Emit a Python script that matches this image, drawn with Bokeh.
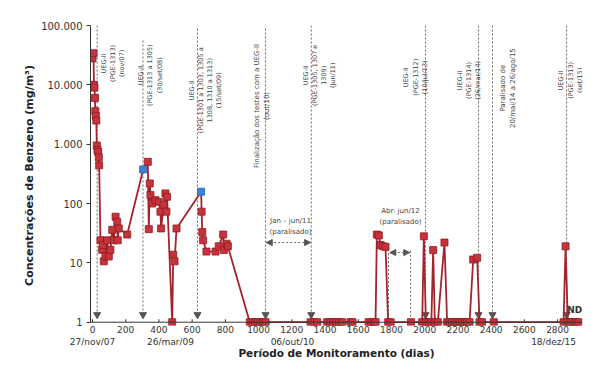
import numpy as np
from bokeh.plotting import figure
from bokeh.models import (Range1d, FixedTicker, Label, Arrow, NormalHead, ColumnDataSource,
                          Span, AllLabels)
from bokeh.core.properties import value
from bokeh.embed import file_html
from bokeh.resources import INLINE

# ---------------- data ----------------
days = [0, 6, 9, 12, 15, 17, 20, 23, 26, 30, 34, 38, 40,
        48, 58, 63, 68, 78, 88, 98, 108, 119, 128, 139, 149, 152, 158, 209,
        305, 333, 339, 345, 349, 359, 379, 399, 409, 413, 429, 439, 445, 449,
        480, 486, 494, 506,
        654, 657, 661, 666, 686, 741, 760, 787, 791, 807, 815,
        947, 963, 979, 995, 1011, 1027, 1042,
        1313, 1333, 1353, 1413, 1431, 1449, 1467, 1485, 1503, 1553, 1565,
        1662, 1678, 1694, 1704, 1712, 1724, 1734, 1748, 1764, 1780, 1795,
        1917, 1985, 1995, 2007, 2025, 2040, 2051, 2061, 2079, 2119,
        2135, 2150, 2165, 2180, 2195, 2210, 2225, 2240, 2255, 2270,
        2292, 2316, 2330, 2345, 2416,
        2836, 2848, 2862, 2878, 2894, 2910, 2925]
benzeno = [28000, 34000, 10000, 9000, 6000, 3600, 3000, 2500, 950, 800, 740, 600, 440,
           24, 16.6, 20, 10.6, 13, 24, 12.8, 16.6, 36, 24, 60, 49, 24, 38, 30,
           375, 505, 37, 218, 139, 100, 114, 107, 73, 38, 95, 148, 73, 130,
           1, 13.7, 10.6, 38,
           158, 73, 33, 24, 15.5, 15.5, 19, 30, 16.5, 21, 19,
           1, 1, 1, 1, 1, 1, 1,
           1, 1, 1, 1, 1, 1, 1, 1, 1, 1, 1,
           1, 1, 1, 1, 30, 29, 20, 19, 18.6, 1, 1,
           1, 1, 28, 1, 1, 1, 16.4, 1, 1, 22,
           1, 1, 1, 1, 1, 1, 1, 1, 1, 1,
           11.4, 12.2, 1, 1, 1,
           1, 19, 1, 1, 1, 1, 1]
blue_days = [305, 654]

x_ticks = list(range(0, 2801, 200))
y_ticks = [1, 10, 100, 1000, 10000, 100000]
y_tick_labels = ["1", "10", "100", "1.000", "10.000", "100.000"]

date_days = [0, 470, 1204, 2776]
date_labels = ["27/nov/07", "26/mar/09", "06/out/10", "18/dez/15"]

event_days = [28, 304, 632, 1042, 1317, 2005, 2324, 2408, 2854]
event_tops = [100000, 56000, 89000, 89000, 100000, 100000, 100000, 100000, 100000]
pause_days = [1782, 1915]

note_days = [123, 349, 680, 1020, 1367, 1945, 2267, 2502, 2878]
note_vals = [23000, 14500, 8100, 4400, 14500, 13400, 11900, 8800, 11900]
note_texts = [
    "UEG-II\n(PGE-1313)\n(nov/07)",
    "UEG-II\n(PGE-1313 a 1305)\n(30/set/08)",
    "UEG-II\n(PGE-1301 a 1303, 1305 a\n1308, 1310 a 1313)\n(15/set/09)",
    "Finalização dos testes com a UEG-II\n(out/10)",
    "UEG-II\n(PGE-1305, 1307 e\n1309)\n(jun/11)",
    "UEG-II\n(PGE-1312)\n(10/jul/13)",
    "UEG-II\n(PGE-1314)\n(26/mar/14)",
    "Paralisado de\n20/mai/14 a 26/ago/15",
    "UEG-II\n(PGE-1313)\n(set/15)",
]
note_sizes = ["6.5px", "6.5px", "6.5px", "7px", "6.5px", "6.5px", "6.5px", "7px", "6.5px"]

FONT = "DejaVu Sans"
AX = "#333333"

p = figure(width=583, height=361, output_backend="svg", toolbar_location=None,
           y_axis_type="log",
           x_range=Range1d(-12, 2950), y_range=Range1d(0.88, 100000),
           min_border_left=90, min_border_right=1, min_border_top=25, min_border_bottom=35)
p.background_fill_color = "white"
p.border_fill_color = "white"
p.outline_line_color = None
p.grid.visible = False

# x axis: two-row labels (day numbers + dates) and title
tick_pos = sorted(set(x_ticks) | set(date_days))
overrides = {}
for t in tick_pos:
    top = str(t) if t in x_ticks else ""
    bottom = date_labels[date_days.index(t)] if t in date_days else ""
    overrides[t] = top + ("\n" + bottom if bottom else "")
xa = p.xaxis[0]
xa.ticker = FixedTicker(ticks=tick_pos)
xa.major_label_overrides = overrides
xa.major_label_policy = AllLabels()
xa.axis_line_color = None
xa.major_tick_line_color = None
xa.minor_tick_line_color = None
xa.major_tick_in = 0
xa.major_tick_out = 0
xa.major_label_standoff = -1
xa.major_label_text_font = FONT
xa.major_label_text_font_size = "9px"
xa.major_label_text_color = AX
xa.axis_label = "Período de Monitoramento (dias)"
xa.axis_label_standoff = -3
xa.axis_label_text_font = FONT
xa.axis_label_text_font_style = "bold"
xa.axis_label_text_font_size = "10.5px"
xa.axis_label_text_color = "#222222"

# axis line at y = 1 with short inner tick marks
p.add_layout(Span(location=1, dimension="width", line_color=AX, line_width=1))
p.segment(x0=x_ticks, y0=[1] * len(x_ticks), x1=x_ticks, y1=[1.12] * len(x_ticks),
          line_color=AX, line_width=1)

ya = p.yaxis[0]
ya.ticker = FixedTicker(ticks=y_ticks)
ya.major_label_overrides = {t: l for t, l in zip(y_ticks, y_tick_labels)}
ya.bounds = (1, 100000)
ya.major_tick_in = 0
ya.major_tick_out = 4
ya.minor_tick_line_color = None
ya.major_label_standoff = 4
ya.major_label_text_font = FONT
ya.major_label_text_font_size = "10px"
ya.major_label_text_color = AX
ya.axis_line_color = AX
ya.major_tick_line_color = AX
ya.axis_label = "Concentrações de Benzeno (mg/m³)"
ya.axis_label_text_font = FONT
ya.axis_label_text_font_style = "bold"
ya.axis_label_text_font_size = "11px"
ya.axis_label_text_color = "#222222"
ya.axis_label_standoff = 2

# event lines
p.segment(x0=event_days, y0=event_tops, x1=event_days, y1=[1.45] * len(event_days),
          line_color="#666666", line_dash="2 2", line_width=1)
p.scatter(x=event_days, y=[1.34] * len(event_days), marker="inverted_triangle", size=7,
          fill_color="#555555", line_color="#555555")
p.segment(x0=pause_days, y0=[17, 16], x1=pause_days, y1=[1, 1],
          line_color="#666666", line_dash="2 2", line_width=1)

# series
p.line(days, benzeno, line_color="#a3242c", line_width=1.8)
colors = ["#3b83d8" if d in blue_days else "#c8323b" for d in days]
lcolors = ["#2a64b0" if d in blue_days else "#8e1c22" for d in days]
src = ColumnDataSource(dict(x=days, y=benzeno, c=colors, lc=lcolors))
p.scatter("x", "y", source=src, marker="square", size=7, fill_color="c", line_color="lc", line_width=0.8)

# rotated notes
nsrc = ColumnDataSource(dict(x=note_days, y=note_vals, t=note_texts, s=note_sizes))
p.text("x", "y", text="t", source=nsrc, angle=np.pi / 2, text_align="center", text_baseline="middle",
       text_font=value(FONT), text_font_size="s", text_color="#444444", text_line_height=1.15)

# paused intervals
p.text(x=[1192, 1854], y=[40.8, 60], text=["Jan – jun/11\n(paralisado)", "Abr- jun/12\n(paralisado)"],
       text_align="center", text_baseline="middle", text_font=value(FONT), text_font_size="7px",
       text_color="#444444", text_line_height=1.4)
for xs, xe, yy in [(1046, 1313, 22), (1790, 1910, 14.9)]:
    p.add_layout(Arrow(x_start=xs, y_start=yy, x_end=xe, y_end=yy,
                       start=NormalHead(size=6, fill_color="#555555", line_color="#555555"),
                       end=NormalHead(size=6, fill_color="#555555", line_color="#555555"),
                       line_color="#666666", line_dash="2 2", line_width=1))

p.add_layout(Label(x=2948, y=1.6, text="ND", text_align="right", text_baseline="middle",
                   text_font=FONT, text_font_style="bold", text_font_size="9px", text_color=AX))

open("out.html", "w").write(file_html(p, INLINE))
